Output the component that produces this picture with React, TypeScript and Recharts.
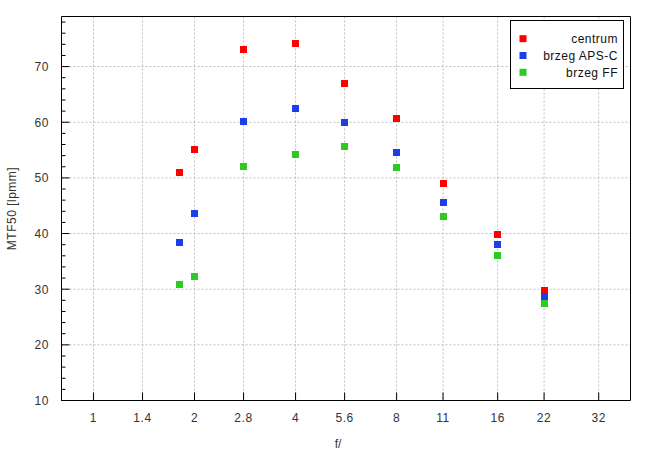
import React from 'react';
import {
  ScatterChart,
  Scatter,
  XAxis,
  YAxis,
  CartesianGrid,
  ReferenceLine,
  Legend,
  Label,
} from 'recharts';

// f-numbers at which measurements were taken
const fStops = [1.8, 2, 2.8, 4, 5.6, 8, 11, 16, 22];
// MTF50 [lpmm] values
const centrum = [50.9, 55.1, 73.0, 74.1, 66.9, 60.7, 49.0, 39.8, 29.8];
const brzegApsc = [38.4, 43.6, 60.1, 62.5, 59.9, 54.5, 45.6, 38.0, 28.7];
const brzegFF = [30.8, 32.3, 52.0, 54.2, 55.6, 51.9, 43.1, 36.0, 27.4];

const seriesNames = ['centrum', 'brzeg APS-C', 'brzeg FF'];
const seriesColors = ['#ff0000', '#1c3ee6', '#2ccb22'];

const xTicks = [1, 1.4, 2, 2.8, 4, 5.6, 8, 11, 16, 22, 32];
const yMajor = [10, 20, 30, 40, 50, 60, 70];
const yTicks = [10, 12, 14, 16, 18, 20, 22, 24, 26, 28, 30, 32, 34, 36, 38, 40, 42, 44, 46, 48, 50, 52, 54, 56, 58, 60, 62, 64, 66, 68, 70, 72, 74, 76, 78];

const xDomain = [0.803, 39.8];
const yDomain = [10, 79];

const FONT = '"Liberation Sans", Arial, sans-serif';

const toData = (vals: number[]) => fStops.map((f, i) => ({ f, v: vals[i] }));
const seriesData = [toData(centrum), toData(brzegApsc), toData(brzegFF)];

const XTick = (props: any) => {
  const { x, y, payload } = props;
  return (
    <g>
      <line x1={x} x2={x} y1={y} y2={y - 8} stroke="#000" strokeWidth={1} />
      <text
        x={x}
        y={y + 21.5}
        textAnchor="middle"
        fontFamily={FONT}
        fontSize={12}
        letterSpacing={0.6}
        fill="#333"
      >
        {String(payload.value)}
      </text>
    </g>
  );
};

const YTick = (props: any) => {
  const { x, y, payload } = props;
  const v = payload.value as number;
  const major = yMajor.includes(v);
  return (
    <g>
      <line x1={x} x2={x + (major ? 8 : 4)} y1={y} y2={y} stroke="#000" strokeWidth={1} />
      {major && (
        <text
          x={x - 12.5}
          y={y + 4.5}
          textAnchor="end"
          fontFamily={FONT}
          fontSize={12}
          letterSpacing={0.6}
          fill="#333"
        >
          {String(v)}
        </text>
      )}
    </g>
  );
};

const Square = (props: any) => {
  const { cx, cy, fill } = props;
  if (cx == null || cy == null) return null;
  return <rect x={Math.round(cx - 3.5)} y={Math.round(cy - 3.5)} width={7} height={7} fill={fill} />;
};

const YLabel = (props: any) => {
  const vb = props.viewBox || {};
  const cx = vb.x + 0;
  const cy = vb.y + vb.height / 2;
  return (
    <text
      x={cx}
      y={cy}
      transform={`rotate(-90, ${cx}, ${cy})`}
      textAnchor="middle"
      dominantBaseline="central"
      fontFamily={FONT}
      fontSize={12}
      letterSpacing={0.5}
      fill="#333"
    >
      MTF50 [lpmm]
    </text>
  );
};

const XLabel = (props: any) => {
  const vb = props.viewBox || {};
  const cx = vb.x + vb.width / 2 - 8;
  return (
    <text
      x={cx}
      y={448}
      textAnchor="middle"
      fontFamily={FONT}
      fontSize={12}
      fill="#333"
    >
      f/
    </text>
  );
};

const renderLegend = () => (
  <svg width={114} height={69} style={{ display: 'block' }}>
    <rect x={0.5} y={0.5} width={113} height={68} fill="#fff" stroke="#000" strokeWidth={1} />
    {seriesNames.map((n, i) => (
      <g key={n}>
        <rect x={9.5} y={15.2 + i * 16.8} width={7} height={7} fill={seriesColors[i]} />
        <text
          x={108}
          y={23 + i * 16.8}
          textAnchor="end"
          fontFamily={FONT}
          fontSize={12}
          letterSpacing={0.5}
          fill="#111"
        >
          {n}
        </text>
      </g>
    ))}
  </svg>
);

export default function App() {
  return (
    <div style={{ position: 'absolute', left: 0, top: 0, width: 655, height: 455, background: '#fff' }}>
      <ScatterChart
        width={655}
        height={455}
        margin={{ top: 16.5, right: 24.5, bottom: 24.5, left: 11.5 }}
      >
        <CartesianGrid
          stroke="#bdbdbd"
          strokeDasharray="2 2"
          horizontalValues={yMajor}
          verticalValues={xTicks}
        />
        <XAxis
          dataKey="f"
          type="number"
          scale="log"
          domain={xDomain}
          ticks={xTicks}
          allowDataOverflow
          interval={0}
          tickLine={false}
          tickSize={0}
          tickMargin={0}
          axisLine={{ stroke: '#000' }}
          tick={<XTick />}
          height={30}
        >
          <Label content={<XLabel />} />
        </XAxis>
        <YAxis
          dataKey="v"
          type="number"
          domain={yDomain}
          ticks={yTicks}
          allowDataOverflow
          interval={0}
          tickLine={false}
          tickSize={0}
          tickMargin={0}
          axisLine={{ stroke: '#000' }}
          tick={<YTick />}
          width={50}
        >
          <Label content={<YLabel />} />
        </YAxis>
        <ReferenceLine y={yDomain[1]} stroke="#000" />
        <ReferenceLine x={xDomain[1]} stroke="#000" />
        {seriesNames.map((n, i) => (
          <Scatter
            key={n}
            name={n}
            data={seriesData[i]}
            fill={seriesColors[i]}
            shape={<Square />}
            isAnimationActive={false}
          />
        ))}
        <Legend
          layout="vertical"
          align="center"
          verticalAlign="middle"
          content={renderLegend}
          wrapperStyle={{ left: 510, top: 20, width: 114, height: 69 }}
        />
      </ScatterChart>
    </div>
  );
}
